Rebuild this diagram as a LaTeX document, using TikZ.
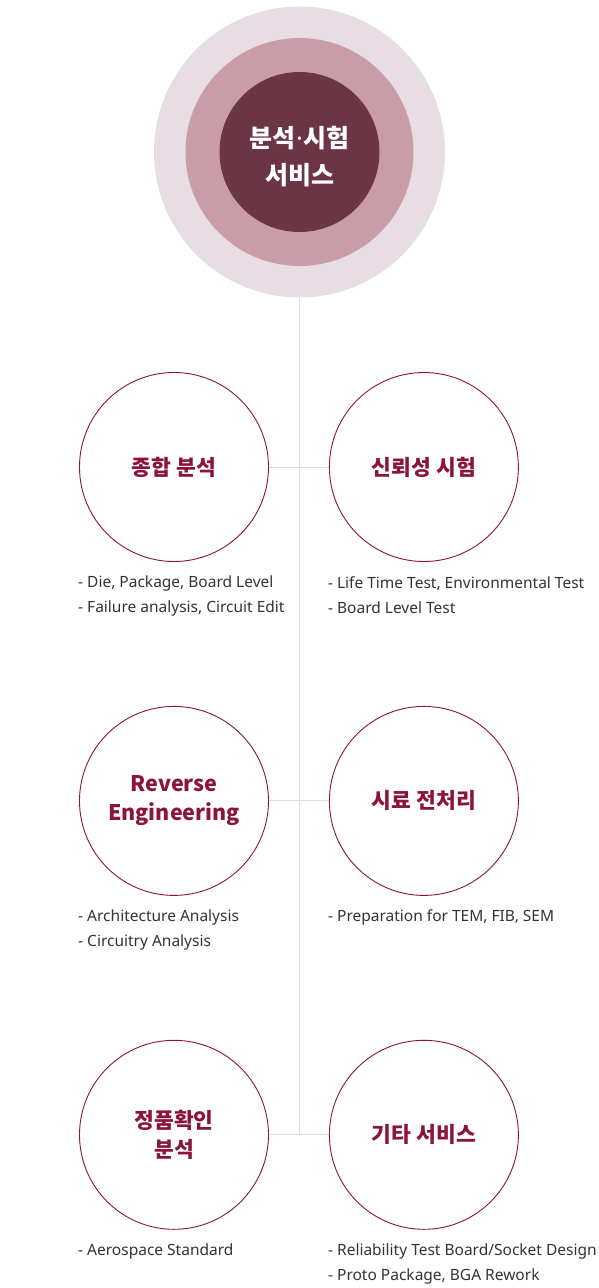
\documentclass[tikz,border=0pt]{standalone}
\usepackage{fontspec}
\setmainfont{Noto Sans}
\newfontfamily\kr{Noto Sans CJK KR}
\usetikzlibrary{positioning}
\definecolor{ringA}{HTML}{E8DDE2}
\definecolor{ringB}{HTML}{C89DA8}
\definecolor{ringC}{HTML}{6B3545}
\definecolor{wine}{HTML}{8C1339}
\definecolor{txt}{HTML}{333333}
\definecolor{stem}{HTML}{DCDCDC}
\tikzset{
  ring/.style = {circle, inner sep = 0pt},
  svc/.style  = {circle, draw = wine, line width = 0.9pt,
                 minimum size = 189pt, inner sep = 0pt,
                 align = center, text = wine,
                 font = \kr\bfseries\fontsize{21.5}{29}\selectfont},
  desc/.style = {anchor = north west, align = left, inner sep = 0pt,
                 text = txt, font = \fontsize{15.5}{25}\selectfont},
  link/.style = {draw = stem, line width = 1pt}
}

\begin{document}
\begin{tikzpicture}[x=1pt,y=-1pt]
  \useasboundingbox (0,0) rectangle (599,1288);
  % centre rings
  \node[ring,fill=ringA,minimum size=291pt] (halo) at (299.5,152) {};
  \node[ring,fill=ringB,minimum size=228pt] (mid) at (halo) {};
  \node[ring,fill=ringC,minimum size=160pt] (hub) at (halo) {};
  \node[text=white,align=center,font=\kr\bfseries\fontsize{25}{37}\selectfont]
    (hubtext) at ([yshift=-5pt]hub)
    {분석{\rmfamily\kern.02em·\kern.02em}시험\\서비스};
  % services
  \node[svc] (s1) at (174,467) {종합 분석};
  \node[svc,right=60pt of s1] (s2) {신뢰성 시험};
  \node[svc,below=144pt of s1] (s3) {Reverse\\Engineering};
  \node[svc,right=60pt of s3] (s4) {시료 전처리};
  \node[svc,below=144pt of s3] (s5) {정품확인\\분석};
  \node[svc,right=60pt of s5] (s6) {기타 서비스};
  % details
  \node[desc] (d1) at ([xshift=-96pt,yshift=-14pt]s1.south)
    {- Die, Package, Board Level\\- Failure analysis, Circuit Edit};
  \node[desc] (d2) at ([xshift=-96pt,yshift=-14pt]s2.south)
    {- Life Time Test, Environmental Test\\- Board Level Test};
  \node[desc] (d3) at ([xshift=-96pt,yshift=-14pt]s3.south)
    {- Architecture Analysis\\- Circuitry Analysis};
  \node[desc] (d4) at ([xshift=-96pt,yshift=-14pt]s4.south)
    {- Preparation for TEM, FIB, SEM};
  \node[desc] (d5) at ([xshift=-96pt,yshift=-14pt]s5.south)
    {- Aerospace Standard};
  \node[desc] (d6) at ([xshift=-96pt,yshift=-14pt]s6.south)
    {- Reliability Test Board/Socket Design\\- Proto Package, BGA Rework};
  % connectors
  \draw[link] (halo.south) -- (halo.south |- s5.east);
  \draw[link] (s1) -- (s2);
  \draw[link] (s3) -- (s4);
  \draw[link] (s5) -- (s6);
\end{tikzpicture}
\end{document}
